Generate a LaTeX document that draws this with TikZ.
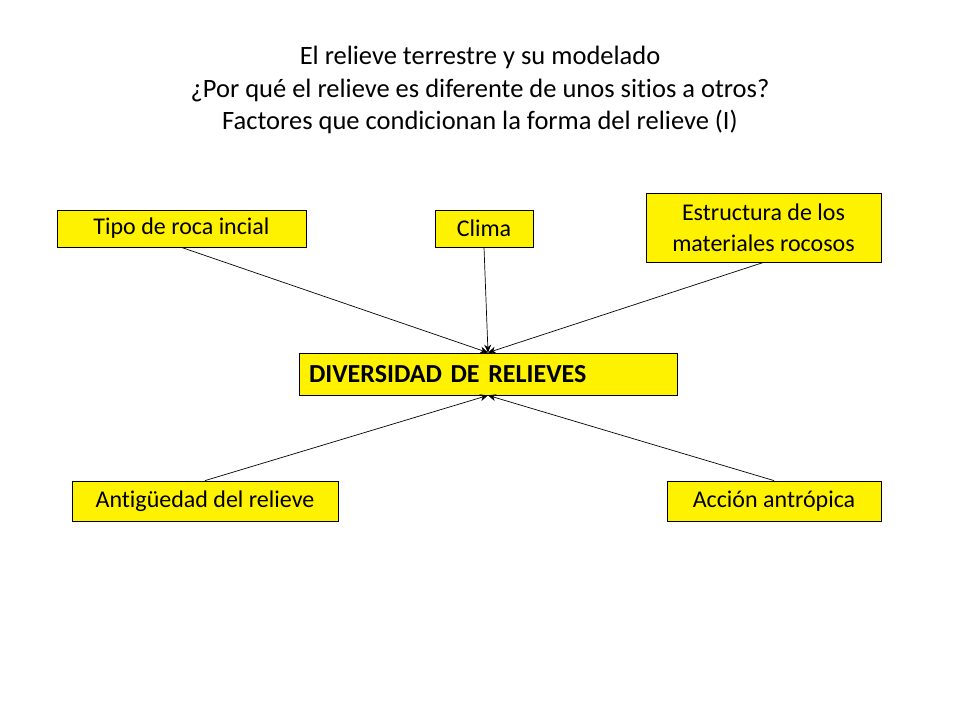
\documentclass[tikz,border=0pt]{standalone}
\usepackage{fontspec}
\setmainfont{Carlito}[RawFeature=-liga]
\usetikzlibrary{arrows.meta}
\begin{document}
\begin{tikzpicture}[x=1pt,y=-1pt,
  box/.style={draw=black,line width=0.8pt,fill=yellow,inner sep=0pt,align=center,font=\fontsize{24}{31}\selectfont},
  conn/.style={line width=0.7pt,-{Stealth[length=8pt,width=7pt]}}]
\useasboundingbox (0,0) rectangle (960,720);
\fill[white] (0,0) rectangle (960,720);
\node[align=center,font=\fontsize{26.5}{32.5}\selectfont] (title) at (480,90)
  {El relieve terrestre y su modelado\\ ¿Por qué el relieve es diferente de unos sitios a otros?\\ Factores que condicionan la forma del relieve (I)};
\node[box,minimum width=249,minimum height=37] (tipo) at (181.5,228.5) {Tipo de roca incial};
\node[box,minimum width=98,minimum height=37] (clima) at (484,228.5) {Clima};
\node[box,minimum width=235,minimum height=69] (estr) at (763.5,227.5) {Estructura de los\\ materiales rocosos};
\node[box,minimum width=378,minimum height=42,align=left,text width=358,inner xsep=10,font=\bfseries\fontsize{26}{30}\selectfont] (div) at (488,374) {DIVERSIDAD DE RELIEVES};
\node[box,minimum width=266,minimum height=40] (anti) at (205,501) {Antigüedad del relieve};
\node[box,minimum width=214,minimum height=40] (acc) at (774,501) {Acción antrópica};
\draw[conn] (tipo.south) -- (div.north);
\draw[conn] (clima.south) -- (div.north);
\draw[conn] (estr.south) -- (div.north);
\draw[conn] (anti.north) -- (div.south);
\draw[conn] (acc.north) -- (div.south);
\end{tikzpicture}
\end{document}
